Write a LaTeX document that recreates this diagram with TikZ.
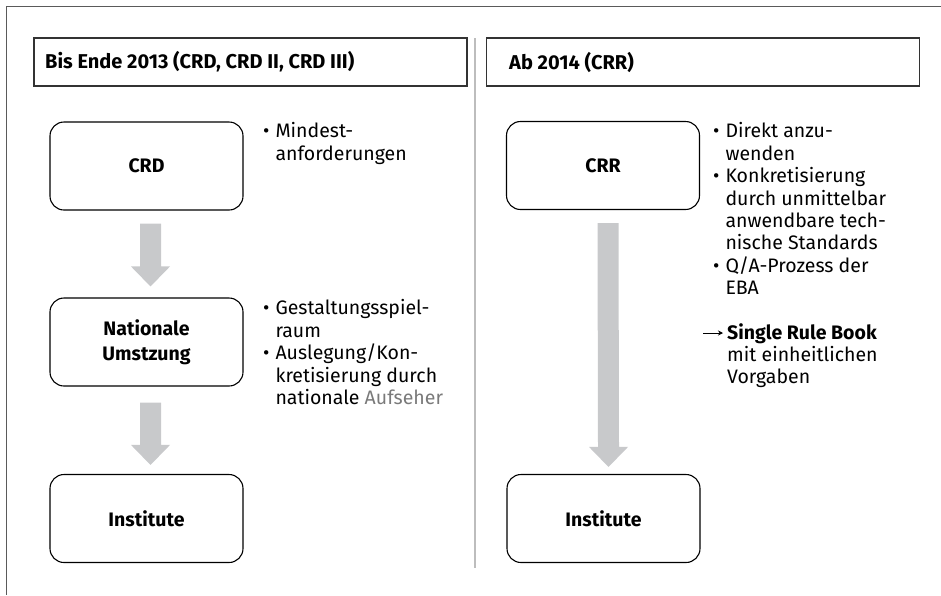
\documentclass[tikz,border=0pt]{standalone}
\usepackage{fontspec}
\setmainfont{Fira Sans}
\usetikzlibrary{calc,arrows.meta}
\definecolor{framegray}{HTML}{5A5A5A}
\definecolor{divgray}{HTML}{BDBDBD}
\definecolor{arrowgray}{HTML}{C8C9CB}
\definecolor{softgray}{HTML}{7A7A7A}
\tikzset{
  frameline/.style={draw=framegray, line width=1.6pt},
  headbox/.style={draw=black!80, line width=1.3pt, minimum width=433pt, minimum height=48pt, inner sep=0pt},
  headtext/.style={anchor=west, font=\fontsize{20}{24}\selectfont\bfseries, inner sep=0pt},
  stage/.style={draw=black, line width=1.1pt, rounded corners=14pt, minimum width=193pt, minimum height=88pt, align=center, font=\fontsize{19.5}{25}\selectfont\bfseries, inner sep=0pt},
  bullets/.style={anchor=north west, inner sep=0pt, align=left, font=\fontsize{19.5}{22.4}\selectfont},
  grarrow/.style={fill=arrowgray, draw=none},
  smallarrow/.style={draw=black, line width=0.9pt, -{Stealth[length=5pt,width=5pt]}}
}
\newcommand\downarrowshape[5]{% from node, to node, dx, top gap, bottom gap
  \fill[grarrow] ($(#1.south)+(#3-10.5,#4)$) -- ($(#1.south)+(#3+10.5,#4)$)
    -- ($(#2.north)+(#3+10.5,-#5-20)$) -- ($(#2.north)+(#3+19.5,-#5-20)$)
    -- ($(#2.north)+(#3,-#5)$) -- ($(#2.north)+(#3-19.5,-#5-20)$)
    -- ($(#2.north)+(#3-10.5,-#5-20)$) -- cycle;}
\begin{document}
\begin{tikzpicture}[x=1pt,y=-1pt]
\useasboundingbox (0,0) rectangle (941,595);
% frame
\coordinate (ftl) at (6.5,6.5);
\coordinate (ftr) at (941,6.5);
\coordinate (fbl) at (6.5,595);
\draw[frameline] (ftr) -- (ftl) -- (fbl);
% divider
\coordinate (dtop) at (475,38);
\coordinate (dbot) at (475,568);
\draw[divgray, line width=2.4pt] (dtop) -- (dbot);
% headers
\node[headbox] (hl) at (250.5,62) {};
\node[headbox] (hr) at (703,62) {};
\node[headtext] (hlt) at (45,62) {Bis Ende 2013 (CRD, CRD II, CRD III)};
\node[headtext] (hrt) at (509,62) {Ab 2014 (CRR)};
% left column
\node[stage] (crd) at (146.5,166) {CRD};
\node[stage] (nat) at (146.5,342) {Nationale\\Umstzung};
\node[stage] (inl) at (146.5,518.5) {Institute};
\downarrowshape{crd}{nat}{4}{13}{11}
\downarrowshape{nat}{inl}{4}{16}{9}
% right column
\node[stage] (crr) at (603,165.5) {CRR};
\node[stage] (inr) at (603.5,518.5) {Institute};
\downarrowshape{crr}{inr}{5}{13}{7}
% bullet texts
\node[bullets] (b1) at (263,122) {\begin{tabular}{@{}l@{\hspace{6pt}}l@{}}
•&Mindest-\\ &anforderungen\end{tabular}};
\node[bullets] (b2) at (263,299) {\begin{tabular}{@{}l@{\hspace{6pt}}l@{}}
•&Gestaltungsspiel-\\ &raum\\
•&Auslegung/Kon-\\ &kretisierung durch\\ &nationale \textcolor{softgray}{Aufseher}\end{tabular}};
\node[bullets] (b3) at (713,122) {\begin{tabular}{@{}l@{\hspace{6pt}}l@{}}
•&Direkt anzu-\\ &wenden\\
•&Konkretisierung\\ &durch unmittelbar\\ &anwendbare tech-\\ &nische Standards\\
•&Q/A-Prozess der\\ &EBA\end{tabular}};
\node[bullets] (b4) at (727,323) {\begin{tabular}{@{}l@{}}
\textbf{Single Rule Book}\\ mit einheitlichen\\ Vorgaben\end{tabular}};
\coordinate (arrs) at ($(b4.north west)+(-24,10)$);
\coordinate (arre) at ($(b4.north west)+(-4,10)$);
\draw[smallarrow] (arrs) -- (arre);
\end{tikzpicture}
\end{document}
